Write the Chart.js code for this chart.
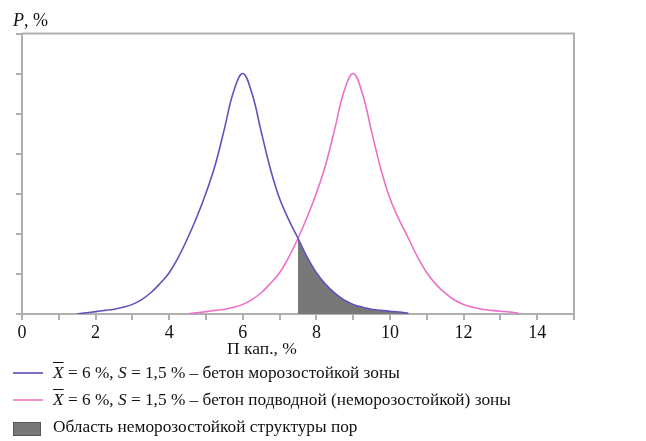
<!DOCTYPE html>
<html>
<head>
<meta charset="utf-8">
<script src="https://cdn.jsdelivr.net/npm/chart.js@4/dist/chart.umd.min.js"></script>
<style>
  html, body { margin: 0; padding: 0; background: #fff; }
  body { width: 646px; height: 441px; position: relative; overflow: hidden; font-family: "Liberation Serif", "Times New Roman", Times, serif; color: #111; }
  #wrap { position: absolute; left: 0; top: 0; width: 646px; height: 358px; }
  #ytitle { position: absolute; left: 13px; top: 9px; font-size: 18px; line-height: 22px; }
  #xtitle { position: absolute; left: 162px; width: 200px; text-align: center; top: 337px; font-size: 17.5px; line-height: 22px; }
  .leg { position: absolute; left: 0; font-size: 17.3px; line-height: 22px; white-space: nowrap; }
  .leg .txt { position: absolute; left: 53px; top: 0; }
  .leg .ln { position: absolute; left: 13px; top: 10px; width: 30px; height: 2px; }
  .leg .box { position: absolute; left: 13px; top: 6px; width: 26px; height: 12px; background: #787878; border: 1px solid #555; }
  .ov { text-decoration: overline; font-style: italic; }
  i { font-style: italic; }
</style>
</head>
<body>
<div id="wrap"><canvas id="c"></canvas></div>
<div id="ytitle"><i>P</i>, %</div>
<div id="xtitle"></div>
<div class="leg" style="top:362px"><div class="ln" style="background:#7a70c4"></div><div class="txt"><span class="ov">X</span> = 6 %, <i>S</i> = 1,5 % – бетон морозостойкой зоны</div></div>
<div class="leg" style="top:389px"><div class="ln" style="background:#f290d2"></div><div class="txt"><span class="ov">X</span> = 6 %, <i>S</i> = 1,5 % – бетон подводной (неморозостойкой) зоны</div></div>
<div class="leg" style="top:416px"><div class="box"></div><div class="txt">Область неморозостойкой структуры пор</div></div>
<script>
// --- data ---
const blueX = [1.5,1.75,2,2.25,2.5,2.75,3,3.25,3.5,3.75,4,4.25,4.5,4.75,5,5.25,5.5,5.75,6,6.25,6.5,6.75,7,7.25,7.5,7.75,8,8.25,8.5,8.75,9,9.25,9.5,9.75,10,10.25,10.5];
const blueP = [0,0.03,0.06,0.09,0.12,0.17,0.24,0.36,0.53,0.76,1.03,1.42,1.89,2.42,3.02,3.72,4.62,5.55,6.0,5.5,4.55,3.62,2.88,2.35,1.89,1.42,1.03,0.74,0.52,0.35,0.24,0.17,0.12,0.09,0.07,0.05,0.02];
const pinkX = [4.5,4.75,5,5.25,5.5,5.75,6,6.25,6.5,6.75,7,7.25,7.5,7.75,8,8.25,8.5,8.75,9,9.25,9.5,9.75,10,10.25,10.5,10.75,11,11.25,11.5,11.75,12,12.25,12.5,12.75,13,13.25,13.5];
const pinkP = [0,0.03,0.06,0.09,0.12,0.17,0.24,0.36,0.53,0.76,1.03,1.42,1.89,2.42,3.02,3.72,4.62,5.55,6.0,5.5,4.55,3.62,2.88,2.35,1.89,1.42,1.03,0.74,0.52,0.35,0.24,0.17,0.12,0.09,0.07,0.05,0.02];
const shadeFrom = 7.5;
const xTickLabels = [0,2,4,6,8,10,12,14];
const xTitle = 'П кап., %';
document.getElementById('xtitle').textContent = xTitle;

const toPts = (xs, ys) => xs.map((x, i) => ({x: x, y: ys[i]}));
const bluePts = toPts(blueX, blueP);
const pinkPts = toPts(pinkX, pinkP);
const shadePts = bluePts.filter(p => p.x >= shadeFrom);

const serif = '"Liberation Serif", "Times New Roman", Times, serif';
Chart.defaults.font.family = serif;
const axisGray = '#b0b0b0';
const frame = {
  id: 'frame',
  afterDatasetsDraw(chart) {
    const a = chart.chartArea, ctx = chart.ctx;
    ctx.save();
    ctx.strokeStyle = axisGray; ctx.lineWidth = 2;
    ctx.beginPath();
    ctx.moveTo(a.left, a.top); ctx.lineTo(a.right, a.top); ctx.lineTo(a.right, a.bottom);
    ctx.stroke();
    ctx.restore();
  }
};

new Chart(document.getElementById('c'), {
  type: 'line',
  data: {
    datasets: [
      { data: shadePts, borderWidth: 0, borderColor: 'rgba(0,0,0,0)', backgroundColor: '#787878', fill: 'origin', pointRadius: 0, tension: 0.4, order: 3 },
      { data: bluePts, borderColor: '#5f52bd', borderWidth: 1.6, fill: false, pointRadius: 0, tension: 0.4, order: 1 },
      { data: pinkPts, borderColor: '#ec70c8', borderWidth: 1.6, fill: false, pointRadius: 0, tension: 0.4, order: 2 }
    ]
  },
  options: {
    responsive: true, maintainAspectRatio: false, animation: false,
    layout: { padding: { left: 0, right: 72, top: 33.5, bottom: 0 } },
    plugins: { legend: { display: false }, tooltip: { enabled: false } },
    scales: {
      x: {
        type: 'linear', min: 0, max: 15,
        afterFit: s => { s.height = 44; },
        ticks: { stepSize: 1, padding: 4, color: '#111', font: { family: serif, size: 18, lineHeight: 1 },
                 autoSkip: false, maxRotation: 0,
                 callback: v => xTickLabels.includes(v) ? String(v) : '' },
        grid: { drawOnChartArea: false, drawTicks: true, tickLength: 6, color: axisGray, lineWidth: 2 },
        border: { display: true, color: axisGray, width: 2 },
        title: { display: false }
      },
      y: {
        min: 0, max: 7,
        afterFit: s => { s.width = 22; },
        ticks: { stepSize: 1, padding: 0, callback: () => '' },
        grid: { drawOnChartArea: false, drawTicks: true, tickLength: 6, color: axisGray, lineWidth: 2 },
        border: { display: true, color: axisGray, width: 2 }
      }
    }
  },
  plugins: [frame]
});
</script>
</body>
</html>
